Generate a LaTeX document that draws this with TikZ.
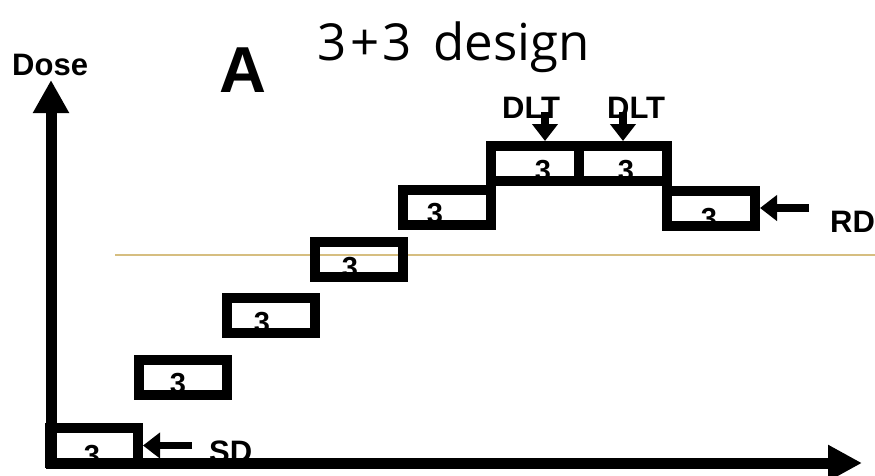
\documentclass[tikz,border=0pt]{standalone}
\usepackage{fontspec}
\setmainfont{Liberation Sans}
\newfontfamily\titlefont{Open Sans}
\usetikzlibrary{arrows.meta}
\definecolor{refline}{RGB}{214,190,128}
\tikzset{
  x=1pt, y=-1pt,
  dosebox/.style={draw, line width=10pt, rectangle, inner sep=0pt, minimum width=88pt, minimum height=35pt, line join=miter},
  digit/.style={font=\fontsize{29}{29}\selectfont\bfseries, anchor=base, inner sep=0pt},
  lbl/.style={font=\fontsize{31}{31}\selectfont\bfseries, anchor=base west, inner sep=0pt},
  ptr/.style={line width=7.5pt, -{Triangle[length=17pt,width=25pt]}},
  axis/.style={line width=11pt, line join=miter, {Triangle[length=33pt,width=34pt]}-{Triangle[length=34pt,width=34pt]}}
}
\begin{document}
\begin{tikzpicture}
\useasboundingbox (0,0) rectangle (875,475);
% reference line
\coordinate (rl1) at (115,255);
\coordinate (rl2) at (875,255);
\draw[refline, line width=2.5pt] (rl1) -- (rl2);
% digits (partly hidden under box borders)
\node[digit] (d1) at (92,465) {3};
\node[digit] (d2) at (178,393) {3};
\node[digit] (d3) at (262,332) {3};
\node[digit] (d4) at (350,277) {3};
\node[digit] (d5) at (435,223) {3};
\node[digit] (d6) at (543,180) {3};
\node[digit] (d7) at (626,180) {3};
\node[digit] (d8) at (709,228) {3};
% labels
\node[lbl] (sd) at (209,462) {SD};
\node[lbl] (rd) at (830,232) {RD};
\node[lbl] (dlt1) at (502,118) {DLT};
\node[lbl] (dlt2) at (607,118) {DLT};
\node[lbl] (dose) at (12,75) {Dose};
\node[font=\fontsize{65}{65}\selectfont\bfseries, anchor=base, inner sep=0pt] (A) at (243,92) {A};
\node[font=\fontsize{51}{51}\selectfont\titlefont, anchor=base west, inner sep=0pt] (title) at (317,60) {3\hspace{4pt}+\hspace{3pt}3\hspace{22pt}design};
% boxes
\node[dosebox] (b1) at (94,445.5) {};
\node[dosebox] (b2) at (182.5,377.5) {};
\node[dosebox] (b3) at (271,315.5) {};
\node[dosebox] (b4) at (359,259.5) {};
\node[dosebox] (b5) at (447,207.5) {};
\node[dosebox] (b6) at (535,163.5) {};
\node[dosebox] (b7) at (623,163.5) {};
\node[dosebox] (b8) at (711,208) {};
% axes
\coordinate (ytip) at (51,80);
\coordinate (origin) at (51,463);
\coordinate (xtip) at (862,463);
\draw[axis] (ytip) -- (origin) -- (xtip);
% pointers
\coordinate (sdtail) at (192,445.5);
\coordinate (rdtail) at (809,208);
\coordinate (dt1) at (545,112);
\coordinate (dt2) at (623,112);
\draw[ptr] (sdtail) -- (b1.east);
\draw[ptr] (rdtail) -- (b8.east);
\draw[ptr] (dt1) -- (dt1 |- b6.north);
\draw[ptr] (dt2) -- (dt2 |- b7.north);
\end{tikzpicture}
\end{document}
